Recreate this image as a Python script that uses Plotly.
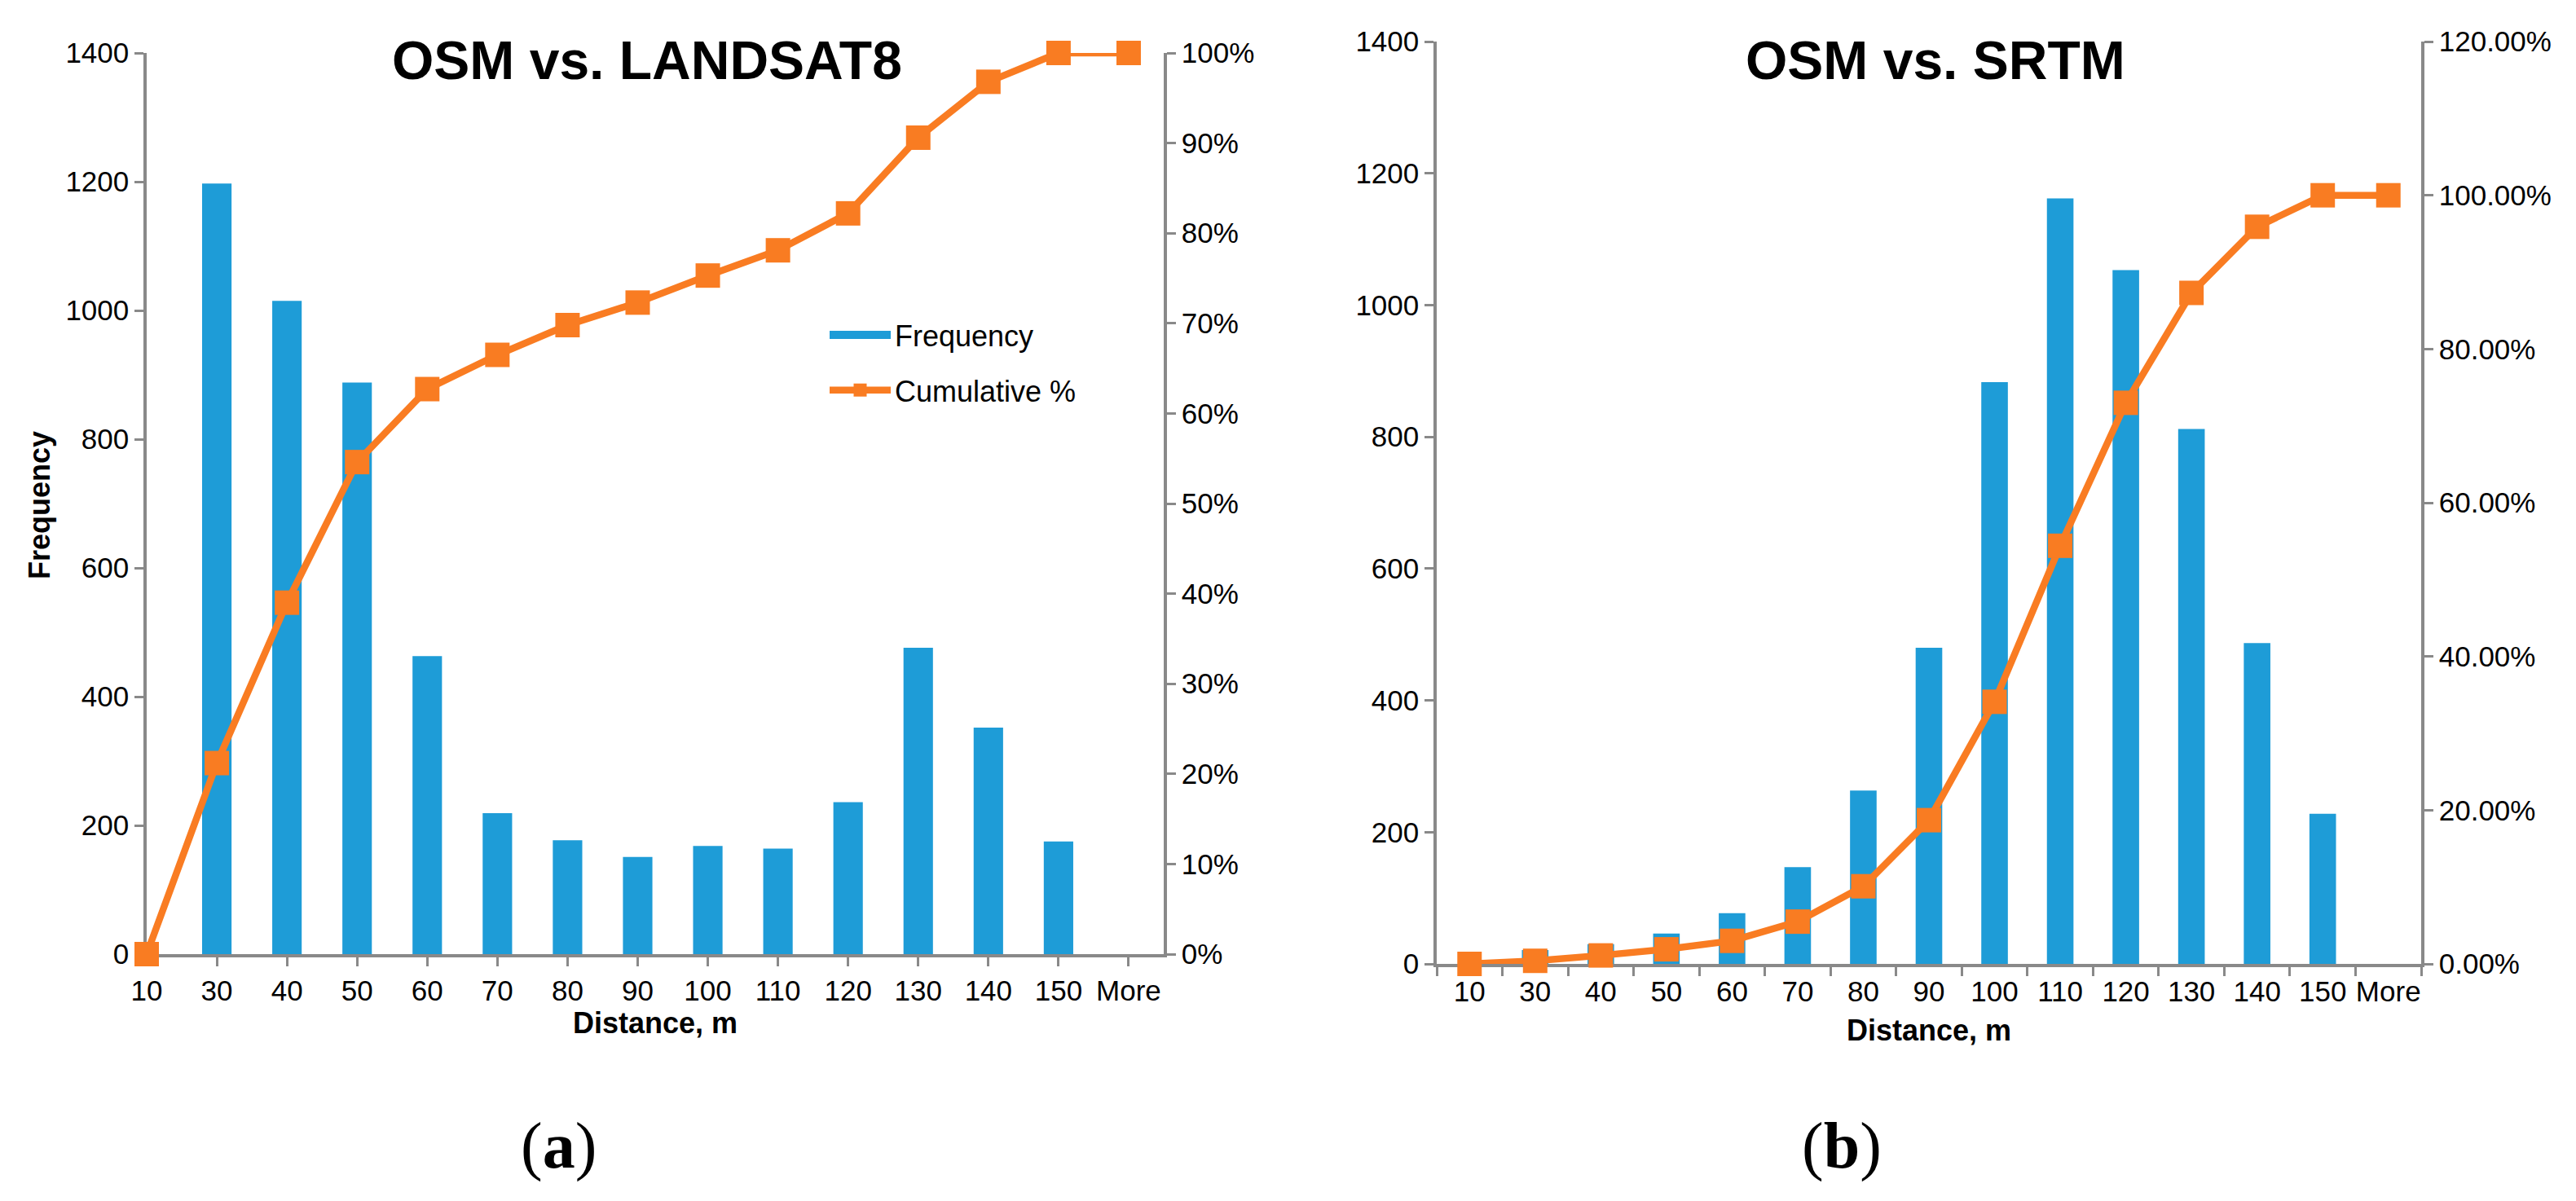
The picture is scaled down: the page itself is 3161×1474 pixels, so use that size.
import plotly.graph_objects as go

# histogram bins (distance, m) shared by both panels
categories = ["10", "30", "40", "50", "60", "70", "80", "90", "100", "110", "120", "130", "140", "150", "More"]

# panel (a) OSM vs. LANDSAT8
landsat_freq = [0, 1197, 1015, 888, 463, 219, 177, 151, 168, 164, 236, 476, 352, 175, 0]
landsat_cum = [0.0, 0.212, 0.390, 0.546, 0.627, 0.665, 0.698, 0.723, 0.753, 0.781, 0.822, 0.906, 0.968, 1.0, 1.0]

# panel (b) OSM vs. SRTM
srtm_freq = [0, 21, 30, 46, 77, 147, 263, 480, 883, 1162, 1053, 812, 487, 228, 0]
srtm_cum = [0.0, 0.004, 0.011, 0.019, 0.030, 0.055, 0.101, 0.187, 0.341, 0.544, 0.730, 0.873, 0.959, 1.0, 1.0]

BLUE = "#1E9CD7"
ORANGE = "#F97C22"
GREY = "#898989"
FONT = "Liberation Sans, Arial, sans-serif"
W, H = 3161, 1474

fig = go.Figure()

# left panel
fig.add_trace(go.Bar(x=categories, y=landsat_freq, marker=dict(color=BLUE, line=dict(width=0)),
                     width=0.42, xaxis="x", yaxis="y", showlegend=False))
# legend stand-in for the bar series (wide blue swatch as in Excel)
fig.add_trace(go.Scatter(x=[None], y=[None], mode="lines", name="Frequency",
                         line=dict(color=BLUE, width=19), legendgroup="f",
                         xaxis="x", yaxis="y"))
fig.add_trace(go.Scatter(x=categories, y=landsat_cum, mode="lines+markers", name="Cumulative %",
                         line=dict(color=ORANGE, width=8.5),
                         marker=dict(symbol="square", size=30, color=ORANGE),
                         cliponaxis=False, legendgroup="c", xaxis="x", yaxis="y2"))

# right panel
fig.add_trace(go.Bar(x=categories, y=srtm_freq, marker=dict(color=BLUE, line=dict(width=0)),
                     width=0.405, xaxis="x2", yaxis="y3", showlegend=False))
fig.add_trace(go.Scatter(x=categories, y=srtm_cum, mode="lines+markers",
                         line=dict(color=ORANGE, width=8.5),
                         marker=dict(symbol="square", size=30, color=ORANGE),
                         cliponaxis=False, xaxis="x2", yaxis="y4", showlegend=False))

tick_font = dict(family=FONT, size=35, color="black")
common = dict(showgrid=False, zeroline=False, showline=True, linecolor=GREY, linewidth=3.5,
              ticks="outside", ticklen=11, tickwidth=3, tickcolor=GREY, tickfont=tick_font,
              layer="below traces", automargin=False)

fig.update_layout(
    template="none",
    width=W, height=H,
    margin=dict(l=0, r=0, t=0, b=0),
    paper_bgcolor="white", plot_bgcolor="white",
    font=dict(family=FONT, color="black"),
    xaxis=dict(domain=[172 / W, 1420 / W], anchor="y", type="category", range=[0, 14.5],
               tickangle=0,
               title=dict(text="<b>Distance, m</b>", font=dict(size=36), standoff=8), **common),
    yaxis=dict(domain=[1 - 1163 / H, 1 - 57 / H], anchor="x", range=[0, 1400], dtick=200, **common),
    yaxis2=dict(overlaying="y", side="right", anchor="x", range=[0, 1], dtick=0.1,
                tickformat=".0%", **common),
    xaxis2=dict(domain=[1755 / W, 2963 / W], anchor="y3", type="category", range=[-0.5, 14.5],
                tickson="boundaries", tickangle=0,
                title=dict(text="<b>Distance, m</b>", font=dict(size=36), standoff=18), **common),
    yaxis3=dict(domain=[1 - 1175 / H, 1 - 43 / H], anchor="x2", range=[0, 1400], dtick=200, **common),
    yaxis4=dict(overlaying="y3", side="right", anchor="x2", range=[0, 1.2], dtick=0.2,
                tickformat=".2%", **common),
    legend=dict(x=1005 / W, y=1 - 373 / H, xanchor="left", yanchor="top",
                font=dict(family=FONT, size=36, color="black"),
                itemwidth=75, traceorder="grouped", tracegroupgap=18,
                bgcolor="rgba(0,0,0,0)"),
    annotations=[
        dict(text="<b>OSM vs. LANDSAT8</b>", x=786 / W, y=1 - 66 / H, xref="paper", yref="paper",
             xanchor="center", yanchor="middle", showarrow=False,
             font=dict(family=FONT, size=66, color="black")),
        dict(text="<b>OSM vs. SRTM</b>", x=2367 / W, y=1 - 66 / H, xref="paper", yref="paper",
             xanchor="center", yanchor="middle", showarrow=False,
             font=dict(family=FONT, size=66, color="black")),
        dict(text="<b>Frequency</b>", x=40 / W, y=1 - 612 / H, xref="paper", yref="paper",
             xanchor="center", yanchor="middle", textangle=-90, showarrow=False,
             font=dict(family=FONT, size=36, color="black")),
        dict(text="(<b>a</b>)", x=677 / W, y=1 - 1398 / H, xref="paper", yref="paper",
             xanchor="center", yanchor="middle", showarrow=False,
             font=dict(family="Liberation Serif, serif", size=80, color="black")),
        dict(text="(<b>b</b>)", x=2252 / W, y=1 - 1398 / H, xref="paper", yref="paper",
             xanchor="center", yanchor="middle", showarrow=False,
             font=dict(family="Liberation Serif, serif", size=80, color="black")),
    ],
)

fig.write_html("out.html")
